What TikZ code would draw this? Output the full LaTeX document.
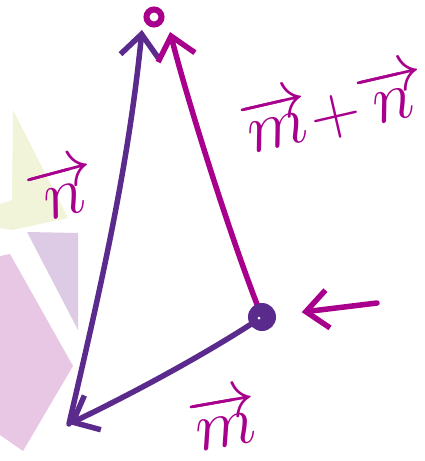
\documentclass[tikz,border=0pt]{standalone}
\usetikzlibrary{arrows.meta}
\definecolor{vpurple}{RGB}{90,42,140}
\definecolor{vmagenta}{RGB}{168,0,140}
\definecolor{paleyellow}{RGB}{241,244,216}
\definecolor{palelilac}{RGB}{221,202,229}
\definecolor{palepink}{RGB}{231,199,227}
\tikzset{
  vec/.style={line width=5.5pt,line cap=round,line join=round,-{Straight Barb[length=22pt,width=38pt]}},
  lbl/.style={text=vmagenta,font=\Huge,scale=2.8,inner sep=0pt}
}
\begin{document}
\begin{tikzpicture}[x=1pt,y=-1pt]
\useasboundingbox (0,0) rectangle (424,461);

% faded shapes behind
\fill[paleyellow] (13,110) -- (68,218) -- (12,230) -- (0,228) -- (0,204) -- (12,200) -- cycle;
\fill[palelilac] (27,232) -- (78,233) -- (78,330) -- cycle;
\fill[palepink] (0,256) -- (10,254) -- (73,366) -- (23,451) -- (0,435) -- cycle;

\coordinate (O) at (262,317);
\coordinate (A) at (69,424);
\coordinate (B) at (142,30);
\coordinate (C) at (170,32);
\coordinate (T) at (154,17);
\coordinate (P) at (377,303);

\draw[vec,vpurple] (O) .. controls (220,345) and (150,385) .. (A);
\draw[vec,vpurple] (A) .. controls (100,290) and (128,170) .. (B);
\draw[vec,vmagenta] (O) .. controls (235,250) and (190,110) .. (C);
\draw[vec,vmagenta,shorten >=40pt] (P) -- (O);

\draw[vmagenta,line width=6pt] (T) circle (7.5);
\fill[vpurple] (O) circle (14);
\fill[white] (O) ++(-3,1) circle (1.5);

\node[lbl,rotate=10] (m) at (224,420) {$\overrightarrow{m}$};
\node[lbl,rotate=13] (mn) at (334,110) {$\overrightarrow{m}{+}\overrightarrow{n}$};
\node[lbl,rotate=15] (n) at (62,190) {$\overrightarrow{n}$};
\end{tikzpicture}
\end{document}
